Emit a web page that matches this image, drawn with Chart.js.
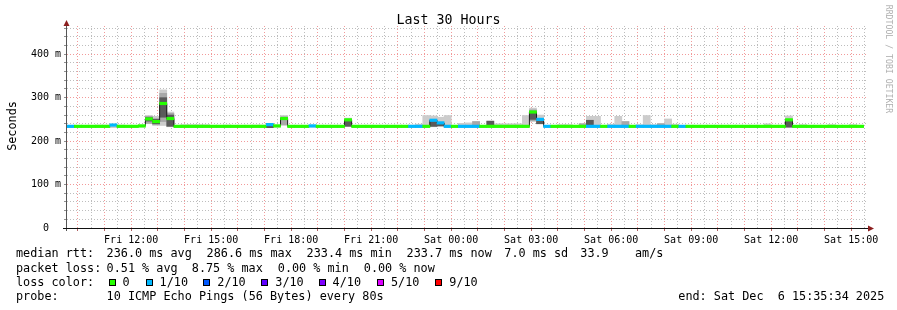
<!DOCTYPE html>
<html>
<head>
<meta charset="utf-8">
<title>Last 30 Hours</title>
<script src="https://cdn.jsdelivr.net/npm/chart.js@4.4.1/dist/chart.umd.min.js"></script>
<style>
  html, body { margin:0; padding:0; background:#ffffff; }
  #wrap { position:relative; width:897px; height:310px; overflow:hidden; background:#ffffff;
          font-family:'DejaVu Sans Mono', monospace; color:#000; }
  #c { position:absolute; left:0; top:0; }
  .txt { position:absolute; white-space:pre; font-size:11.8px; line-height:14px; color:#000; }
  .sw { position:absolute; width:7px; height:7px; box-sizing:border-box; border:1px solid #000; }
  #title { position:absolute; left:0; top:12px; width:897px; text-align:center; font-size:13.3px; line-height:16px; white-space:pre; }
  #ylab { position:absolute; left:-38.5px; top:119px; width:100px; text-align:center; font-size:11.8px; line-height:14px; transform:rotate(-90deg); white-space:pre; }
  #wm { position:absolute; left:829px; top:53.5px; width:120px; text-align:center; font-size:8.2px; line-height:10px; color:#b0b0b0; transform:rotate(90deg); white-space:pre; }
</style>
</head>
<body>
<div id="wrap">
  <canvas id="c" width="897" height="310"></canvas>
  <div id="title">Last 30 Hours</div>
  <div id="ylab">Seconds</div>
  <div id="wm">RRDTOOL / TOBI OETIKER</div>
</div>
<script>
// ---------------- data ----------------
const START_HOUR = 9 + 35/60 + 34/3600;   // Fri 09:35:34 (hours since Fri 00:00)
const END_HOUR = START_HOUR + 30;           // Sat 15:35:34
const FIRST_BUCKET = 9.6;                   // Fri 09:36
const BUCKET_HOURS = 16/60;                 // 16 min consolidation

const tickHours  = [12, 15, 18, 21, 24, 27, 30, 33, 36, 39];
const tickLabels = ['Fri 12:00','Fri 15:00','Fri 18:00','Fri 21:00','Sat 00:00','Sat 03:00','Sat 06:00','Sat 09:00','Sat 12:00','Sat 15:00'];
const yTickValues = [0, 100, 200, 300, 400];
const yTickLabels = ['0  ', '100 m', '200 m', '300 m', '400 m'];

// median RTT per 16-minute bucket (ms)
const medianRtt = [
  234,234,234,234,234,234,237,234,234,234,235,251,245,286.6,252,234,
  234,234,234,234,234,234,234,234,234,234,234,234,238,235,252,234,
  234,234,235,234,234,234,234,249,234,234,234,234,234,234,234,234,
  234,234,234,248,242,234,234,234,234,234,234,234,234,234,234,234,
  234,267,250,234,234,234,234,234,234,234,234,234,234,234,234,234,
  234,234,234,234,234,234,234,234,234,234,234,234,234,234,234,234,
  234,234,234,234,234,249,234,234,234,234,234,234,234,234,234,234
];
// lost pings per bucket (index into lossColors)
const lossIdx = [
  1,0,0,0,0,0,1,0,0,0,0,0,0,0,0,0,
  0,0,0,0,0,0,0,0,0,0,0,0,1,0,0,0,
  0,0,1,0,0,0,0,0,0,0,0,0,0,0,0,0,
  1,1,0,1,1,1,0,1,1,1,0,0,0,0,0,0,
  0,0,1,1,0,0,0,0,0,1,1,0,1,1,1,0,
  1,1,1,1,1,0,1,0,0,0,0,0,0,0,0,0,
  0,0,0,0,0,0,0,0,0,0,0,0,0,0,0,0
];
// smoke extent (min / max ping) per bucket (ms)
const smokeLo = [
  232,232,232,232,232,232,231,232,232,232,232,240,236,236,233,232,
  232,232,231,232,232,232,232,232,232,232,232,232,231,232,236,232,
  232,232,232,232,232,232,232,234,232,232,232,232,232,232,232,232,
  232,232,232,233,234,232,232,232,232,232,232,232,232,232,232,232,
  232,245,240,232,232,232,232,232,232,232,232,232,232,232,232,232,
  232,232,232,232,232,232,232,232,232,232,232,232,232,232,232,232,
  232,232,232,232,232,232,232,232,232,232,232,232,232,232,232,232
];
const smokeHi = [
  236,236,236,236,237,237,239,237,236,236,237,259,257,318,267,236,
  238,238,238,238,236,236,237,236,236,236,237,237,241,237,259,236,
  236,236,237,236,236,236,236,253,236,236,236,236,236,236,236,236,
  237,239,259,258,255,259,236,241,242,245,236,246,240,240,240,240,
  259,276,260,236,236,238,238,236,240,257,257,236,239,257,245,236,
  238,259,238,241,251,239,236,236,236,236,236,236,236,236,236,236,
  236,236,240,236,236,258,236,238,236,236,236,238,236,236,238,236
];
// denser inner smoke: [bucket, low, high]
const midBands = [
  [11,241,257],[12,238,252],[13,245,310],[14,236,264],[30,238,256],
  [51,234,250],[57,236,245],[65,247,272],[66,240,252],[72,236,240],[78,236,245],[83,236,240]
];
const darkBands = [
  [11,246,254],[12,240,250],[13,255,300],[14,234,260],[28,231,236],[39,234,248],
  [51,234,246],[52,235,241],[59,236,246],[65,250,266],[66,240,247],[73,236,248],[101,232,247]
];

const lossColors = ['#26ff00','#00b8ff','#0059ff','#5e00ff','#7e00ff','#dd00ff','#ff0000'];
const lossLabels = ['0','1/10','2/10','3/10','4/10','5/10','9/10'];

// ---------------- legend text ----------------
const legendRows = [
  { base: 257.3, items: [[16.7,'median rtt:'],[107.3,'236.0 ms avg'],[207.3,'286.6 ms max'],[307.3,'233.4 ms min'],[407.3,'233.7 ms now'],[505,'7.0 ms sd'],[581,'33.9'],[635.7,'am/s']] },
  { base: 271.7, items: [[16.7,'packet loss:'],[107.3,'0.51 % avg'],[192.5,'8.75 % max'],[278.5,'0.00 % min'],[364.5,'0.00 % now']] },
  { base: 285.7, items: [[16.7,'loss color:']] },
  { base: 300.0, items: [[16.7,'probe:'],[107.3,'10 ICMP Echo Pings (56 Bytes) every 80s'],[679,'end: Sat Dec  6 15:35:34 2025']] }
];
const swatchX = [109, 145.7, 202.7, 260.7, 319, 376.7, 435];
const swatchLabelX = [123.3, 160.3, 218, 276, 333.3, 391.7, 450];

const wrap = document.getElementById('wrap');
function addText(x, base, s) {
  const d = document.createElement('div');
  d.className = 'txt';
  d.textContent = s;
  d.style.left = (x - 0.7) + 'px';
  d.style.top = (base - 11.1) + 'px';
  wrap.appendChild(d);
}
legendRows.forEach(r => r.items.forEach(([x, s]) => addText(x, r.base, s)));
lossLabels.forEach((lab, i) => {
  const b = document.createElement('div');
  b.className = 'sw';
  b.style.left = swatchX[i] + 'px';
  b.style.top = '279px';
  b.style.background = lossColors[i];
  wrap.appendChild(b);
  addText(swatchLabelX[i], 285.7, lab);
});

// ---------------- chart ----------------
const bucketStart = medianRtt.map((_, k) => FIRST_BUCKET + k * BUCKET_HOURS);
const bucketMid = bucketStart.map(h => h + BUCKET_HOURS / 2);
const last = medianRtt.length - 1;

const gridHours = [];
for (let h = Math.ceil(START_HOUR * 2) / 2; h <= END_HOUR; h += 0.5) gridHours.push(h);
const gridMs = [];
for (let v = 0; v <= 460; v += 20) gridMs.push(v);

const BAND = 2.9; // half-height of the coloured median bar (ms)

const barCommon = { type: 'bar', grouped: false, barPercentage: 1, categoryPercentage: 1, borderWidth: 0 };

const datasets = [
  Object.assign({}, barCommon, {
    label: 'loss', order: 1,
    data: medianRtt.map((v, k) => ({ x: bucketMid[k], y: [v - BAND, v + BAND] })),
    backgroundColor: lossIdx.map(i => lossColors[i])
  }),
  {
    type: 'line', label: 'median', order: 2, stepped: true,
    data: medianRtt.map((v, k) => ({ x: bucketStart[k], y: v })).concat([{ x: bucketStart[last] + BUCKET_HOURS, y: medianRtt[last] }]),
    borderColor: '#202020', borderWidth: 1, pointRadius: 0, fill: false
  },
  Object.assign({}, barCommon, {
    label: 'dark', order: 3,
    data: darkBands.map(([k, lo, hi]) => ({ x: bucketMid[k], y: [lo, hi] })),
    backgroundColor: '#5a5a5a'
  }),
  Object.assign({}, barCommon, {
    label: 'mid', order: 4,
    data: midBands.map(([k, lo, hi]) => ({ x: bucketMid[k], y: [lo, hi] })),
    backgroundColor: '#a8a8a8'
  }),
  Object.assign({}, barCommon, {
    label: 'smoke', order: 5,
    data: medianRtt.map((_, k) => ({ x: bucketMid[k], y: [smokeLo[k], smokeHi[k]] })),
    backgroundColor: '#cccccc'
  })
];

const MINOR = '#bdbdbd', MAJOR = '#f29a9a';

const axesPlugin = {
  id: 'rrdAxes',
  afterDatasetsDraw(chart) {
    const { ctx, chartArea: a } = chart;
    ctx.save();
    ctx.lineWidth = 1;
    // y axis
    ctx.strokeStyle = '#555555';
    ctx.beginPath();
    ctx.moveTo(a.left - 0.5, a.bottom + 3);
    ctx.lineTo(a.left - 0.5, a.top - 1);
    ctx.stroke();
    // x axis
    ctx.strokeStyle = '#111111';
    ctx.beginPath();
    ctx.moveTo(a.left - 4, a.bottom + 0.5);
    ctx.lineTo(a.right + 2, a.bottom + 0.5);
    ctx.stroke();
    // arrows
    ctx.fillStyle = '#8c1f1f';
    ctx.beginPath();
    ctx.moveTo(a.left - 3.5, a.top);
    ctx.lineTo(a.left + 2.5, a.top);
    ctx.lineTo(a.left - 0.5, a.top - 6);
    ctx.closePath();
    ctx.fill();
    ctx.beginPath();
    ctx.moveTo(a.right + 1, a.bottom - 2.5);
    ctx.lineTo(a.right + 1, a.bottom + 3.5);
    ctx.lineTo(a.right + 7, a.bottom + 0.5);
    ctx.closePath();
    ctx.fill();
    ctx.restore();
  }
};

new Chart(document.getElementById('c'), {
  type: 'bar',
  data: { datasets },
  plugins: [axesPlugin],
  options: {
    responsive: false,
    animation: false,
    devicePixelRatio: 1,
    layout: { padding: { left: 0, right: 30, top: 26, bottom: 0 } },
    plugins: { legend: { display: false }, tooltip: { enabled: false }, title: { display: false } },
    scales: {
      x: {
        type: 'linear', min: START_HOUR, max: END_HOUR, offset: false,
        afterBuildTicks: s => { s.ticks = gridHours.map(v => ({ value: v })); },
        afterFit: s => { s.height = 82; },
        grid: {
          offset: false, lineWidth: 1, drawTicks: true, tickLength: 3,
          color: c => (c.tick && Number.isInteger(c.tick.value)) ? MAJOR : MINOR,
          tickColor: c => (c.tick && Number.isInteger(c.tick.value)) ? '#b06060' : 'rgba(0,0,0,0)'
        },
        border: { display: false, dash: [1, 2] },
        ticks: {
          autoSkip: false, maxRotation: 0, minRotation: 0, padding: 3, color: '#000',
          font: { family: 'DejaVu Sans Mono', size: 10 },
          callback: v => { const i = tickHours.indexOf(v); return i >= 0 ? tickLabels[i] : ''; }
        }
      },
      y: {
        type: 'linear', min: 0, max: 465,
        afterBuildTicks: s => { s.ticks = gridMs.map(v => ({ value: v })); },
        afterFit: s => { s.width = 67; },
        grid: {
          lineWidth: 1, drawTicks: true, tickLength: 3,
          color: c => (!c.tick || c.tick.value === 0) ? 'rgba(0,0,0,0)' : (c.tick.value % 100 === 0 ? MAJOR : MINOR),
          tickColor: '#909090'
        },
        border: { display: false, dash: [1, 2] },
        ticks: {
          autoSkip: false, padding: 3, color: '#000',
          font: { family: 'DejaVu Sans Mono', size: 10 },
          callback: v => { const i = yTickValues.indexOf(v); return i >= 0 ? yTickLabels[i] : ''; }
        }
      }
    }
  }
});
</script>
</body>
</html>
